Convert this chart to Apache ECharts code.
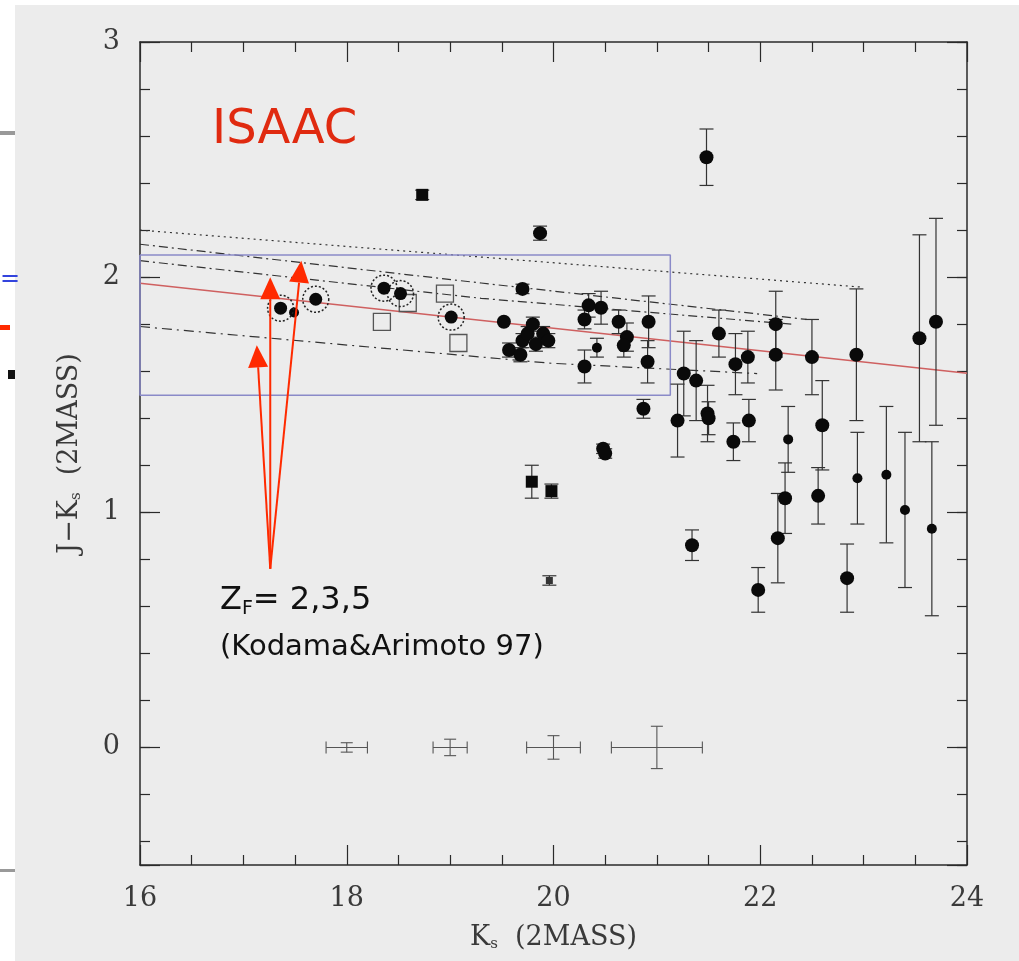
<!DOCTYPE html>
<html><head><meta charset="utf-8">
<script src="https://cdn.jsdelivr.net/npm/echarts@6/dist/echarts.min.js"></script>
<style>html,body{margin:0;padding:0;background:#fff}#c{width:1019px;height:961px}</style>
</head><body><div id="c"></div>
<script>
// ---- data (K_s, J-K_s, error) ----
const circledPts = [[17.36,1.868],[17.70,1.906],[18.36,1.953],[18.52,1.93],[19.01,1.83]];
const smallNoErr = [[17.49,1.85]];
const openSquares = [[18.34,1.81],[18.95,1.93],[19.08,1.72],[18.59,1.89]];
const bigDots = [
  [19.87,2.187,0.03],[19.70,1.95,0.02],[19.52,1.81,0],
  [19.57,1.69,0.03],[19.68,1.67,0.03],[19.70,1.73,0.03],[19.75,1.76,0.03],[19.80,1.80,0.03],
  [19.83,1.715,0.03],[19.90,1.76,0.03],[19.95,1.73,0.03],
  [20.34,1.88,0.05],[20.46,1.87,0.07],[20.30,1.82,0.04],[20.30,1.62,0.07],[20.63,1.81,0.05],
  [20.71,1.745,0.06],[20.68,1.71,0.05],[20.92,1.81,0.11],[20.91,1.64,0.09],[20.87,1.44,0.04],
  [20.48,1.27,0.02],[20.50,1.25,0.02],[21.26,1.59,0.18],[21.38,1.56,0.17],[21.20,1.39,0.155],
  [21.49,1.42,0.12],[21.50,1.40,0.07],[21.60,1.76,0.10],[21.76,1.63,0.13],[21.88,1.66,0.11],
  [21.89,1.39,0.09],[21.74,1.30,0.08],[22.15,1.80,0.14],[22.15,1.67,0.15],[22.50,1.66,0.16],
  [22.93,1.67,0.28],[23.54,1.74,0.44],[23.70,1.81,0.44],[21.48,2.51,0.12],[22.24,1.06,0.15],
  [22.17,0.89,0.19],[22.60,1.37,0.19],[22.56,1.07,0.12],[21.98,0.67,0.095],[21.34,0.86,0.065],
  [22.84,0.72,0.145]
];
const smallDots = [[20.42,1.70,0.04],[22.27,1.31,0.14],[22.94,1.145,0.195],[23.22,1.16,0.29],[23.40,1.01,0.33],[23.66,0.93,0.37]];
const filledSquares = [[18.73,2.35,0.02],[19.79,1.13,0.07],[19.98,1.09,0.03]];
const hashPts = [[19.96,0.71,0.02]];
const refBars = [[18,0,0.2,0.02],[19,0,0.165,0.035],[20,0,0.26,0.05],[21,0,0.44,0.09]];
// model tracks
const modelDotted = [[16,2.20],[23.0,1.957]];
const modelA = [[16,2.14],[19.3,1.975],[22.45,1.82]];
const modelB = [[16,2.07],[19.3,1.91],[22.3,1.80]];
const modelC = [[16,1.79],[19.97,1.634],[21.97,1.59]];
const redFit = [[16,1.974],[24,1.591]];
const blueBox = [[16,2.094],[21.13,2.094],[21.13,1.498],[16,1.498]];
// arrows: [baseK, baseJ, tipK, tipJ]
const arrows = [[17.26,0.76,17.13,1.71],[17.26,0.76,17.26,2.00],[17.26,0.76,17.56,2.07]];
const xTickLabels = ['16','18','20','22','24'];
const yTickLabels = ['0','1','2','3'];

const chart = echarts.init(document.getElementById('c'), null, {renderer:'canvas'});
const AX = '#2a2a2a', LBL = '#3a3a3a', SERIF = '"DejaVu Serif", serif';

function errRender(params, api){
  const x=api.value(0), y=api.value(1), e=api.value(2);
  if(!e) return null;
  const t=api.coord([x,y+e]), b=api.coord([x,y-e]); const w=7;
  const st={stroke:'#333',lineWidth:1.2};
  return {type:'group',children:[
    {type:'line',shape:{x1:t[0],y1:t[1],x2:b[0],y2:b[1]},style:st},
    {type:'line',shape:{x1:t[0]-w,y1:t[1],x2:t[0]+w,y2:t[1]},style:st},
    {type:'line',shape:{x1:b[0]-w,y1:b[1],x2:b[0]+w,y2:b[1]},style:st}
  ]};
}
function refRender(params, api){
  const x=api.value(0), y=api.value(1), ex=api.value(2), ey=api.value(3);
  const l=api.coord([x-ex,y]), r=api.coord([x+ex,y]), t=api.coord([x,y+ey]), b=api.coord([x,y-ey]);
  const st={stroke:'#555',lineWidth:1.1}; const w=6;
  return {type:'group',children:[
    {type:'line',shape:{x1:l[0],y1:l[1],x2:r[0],y2:r[1]},style:st},
    {type:'line',shape:{x1:l[0],y1:l[1]-w,x2:l[0],y2:l[1]+w},style:st},
    {type:'line',shape:{x1:r[0],y1:r[1]-w,x2:r[0],y2:r[1]+w},style:st},
    {type:'line',shape:{x1:t[0],y1:t[1],x2:b[0],y2:b[1]},style:st},
    {type:'line',shape:{x1:t[0]-w,y1:t[1],x2:t[0]+w,y2:t[1]},style:st},
    {type:'line',shape:{x1:b[0]-w,y1:b[1],x2:b[0]+w,y2:b[1]},style:st}
  ]};
}
function arrowRender(params, api){
  const b=api.coord([api.value(0),api.value(1)]), t=api.coord([api.value(2),api.value(3)]);
  const dx=t[0]-b[0], dy=t[1]-b[1], L=Math.hypot(dx,dy), ux=dx/L, uy=dy/L;
  const hl=22, hw=10; const hb=[t[0]-ux*hl, t[1]-uy*hl];
  return {type:'group',children:[
    {type:'line',shape:{x1:b[0],y1:b[1],x2:hb[0],y2:hb[1]},style:{stroke:'#ff2a00',lineWidth:2}},
    {type:'polygon',shape:{points:[[t[0],t[1]],[hb[0]-uy*hw,hb[1]+ux*hw],[hb[0]+uy*hw,hb[1]-ux*hw]]},style:{fill:'#ff2a00'}}
  ]};
}

function xAx(pos, labels){
  return {type:'value', position:pos, min:16, max:24, interval:2,
    axisLine:{show:true,onZero:false,lineStyle:{color:AX,width:1.5}},
    axisTick:{show:true,inside:true,length:20,lineStyle:{color:AX,width:1.2}},
    minorTick:{show:true,splitNumber:4,length:10,lineStyle:{color:AX,width:1.2}},
    splitLine:{show:false},
    axisLabel:{show:labels,margin:20,color:LBL,fontFamily:SERIF,fontSize:27,
      formatter:v=>{const i=[16,18,20,22,24].indexOf(v);return i>=0?xTickLabels[i]:'';}},
    name: labels ? 'K{sub|s}  (2MASS)' : '', nameLocation:'middle', nameGap:58,
    nameTextStyle:{color:LBL,fontFamily:SERIF,fontSize:27,
      rich:{sub:{fontFamily:SERIF,fontSize:15,color:LBL,padding:[14,0,0,0]}}}
  };
}
function yMajor(pos, labels){
  return {type:'value', position:pos, min:-0.5, max:3, minInterval:1, maxInterval:1,
    axisLine:{show:true,onZero:false,lineStyle:{color:AX,width:1.5}},
    axisTick:{show:true,inside:true,length:20,lineStyle:{color:AX,width:1.2}},
    splitLine:{show:false},
    axisLabel:{show:labels,margin:20,color:LBL,fontFamily:SERIF,fontSize:27,
      formatter:v=>{const i=[0,1,2,3].indexOf(v);return i>=0?yTickLabels[i]:'';}},
    name: labels ? 'J\u2212K{sub|s}  (2MASS)' : '', nameLocation:'middle', nameGap:56, nameRotate:90,
    nameTextStyle:{color:LBL,fontFamily:SERIF,fontSize:27,
      rich:{sub:{fontFamily:SERIF,fontSize:15,color:LBL,padding:[14,0,0,0]}}}
  };
}
function yMinor(pos){
  return {type:'value', position:pos, min:-0.5, max:3, minInterval:0.2, maxInterval:0.2,
    axisLine:{show:false}, axisTick:{show:true,inside:true,length:10,lineStyle:{color:AX,width:1.2}},
    splitLine:{show:false}, axisLabel:{show:false}};
}
const lineS = (data, type, color, width) => ({type:'line', data, symbol:'none', silent:true,
  lineStyle:{color, width, type}, z:1, animation:false});
const solid = c => ({color:c, opacity:1});

chart.setOption({
  backgroundColor:'#ececec',
  animation:false,
  grid:{left:140,right:52,top:42,bottom:96},
  xAxis:[xAx('bottom',true), xAx('top',false)],
  yAxis:[yMajor('left',true), yMinor('left'), yMajor('right',false), yMinor('right')],
  series:[
    lineS(modelDotted,[2,4],'#333',1.2),
    lineS(modelA,[9,4,2,4],'#333',1.2),
    lineS(modelB,[9,4,2,4],'#333',1.2),
    lineS(modelC,[10,5,2,5],'#333',1.2),
    lineS(redFit,'solid','#cf6060',1.4),
    {type:'line', data:blueBox.concat([blueBox[0]]), symbol:'none', silent:true, z:1,
      lineStyle:{color:'#8a8ac8',width:1.5}},
    {type:'custom', renderItem:errRender, data:bigDots.concat(smallDots,filledSquares,hashPts), z:3},
    {type:'custom', renderItem:refRender, data:refBars, z:3},
    {type:'scatter', data:bigDots, symbol:'circle', symbolSize:14, itemStyle:solid('#0a0a0a'), z:4},
    {type:'scatter', data:smallDots.concat(smallNoErr), symbol:'circle', symbolSize:10, itemStyle:solid('#0a0a0a'), z:4},
    {type:'scatter', data:filledSquares, symbol:'rect', symbolSize:12, itemStyle:solid('#0a0a0a'), z:4},
    {type:'scatter', data:hashPts, symbol:'rect', symbolSize:7, itemStyle:solid('#333'), z:4},
    {type:'scatter', data:openSquares, symbol:'rect', symbolSize:17,
      itemStyle:{color:'rgba(0,0,0,0)',borderColor:'#555',borderWidth:1.3,opacity:1}, z:4},
    {type:'scatter', data:circledPts, symbol:'circle', symbolSize:26,
      itemStyle:{color:'rgba(0,0,0,0)',borderColor:'#222',borderWidth:1.5,borderType:[2,2],opacity:1}, z:4},
    {type:'scatter', data:circledPts, symbol:'circle', symbolSize:13, itemStyle:solid('#0a0a0a'), z:5},
    {type:'custom', renderItem:arrowRender, data:arrows, z:6, clip:false,
      encode:{x:[0,2],y:[1,3]}}
  ],
  graphic:[
    {type:'rect', left:0, top:0, shape:{width:15,height:961}, style:{fill:'#fff'}},
    {type:'rect', left:0, top:0, shape:{width:1019,height:5}, style:{fill:'#fff'}},
    {type:'rect', left:0, top:131, shape:{width:15,height:4}, style:{fill:'#999'}},
    {type:'rect', left:0, top:869, shape:{width:15,height:3}, style:{fill:'#999'}},
    {type:'text', left:0, top:268, style:{text:'=', fill:'#3344dd', font:'24px "DejaVu Sans"'}},
    {type:'rect', left:0, top:325, shape:{width:10,height:5}, style:{fill:'#ff2a00'}},
    {type:'rect', left:8, top:370, shape:{width:7,height:9}, style:{fill:'#111'}},
    {type:'text', left:212, top:107, style:{text:'ISAAC', fill:'#e02a10', font:'48px "DejaVu Sans"'}},
    {type:'text', left:220, top:585, style:{text:'Z{sub|F}= 2,3,5', fill:'#111', font:'32px "DejaVu Sans"',
      rich:{sub:{fontSize:19,fontFamily:'DejaVu Sans',fill:'#111',padding:[16,0,0,0]}}}},
    {type:'text', left:220, top:633, style:{text:'(Kodama&Arimoto 97)', fill:'#111', font:'29px "DejaVu Sans"'}}
  ]
});
</script></body></html>
